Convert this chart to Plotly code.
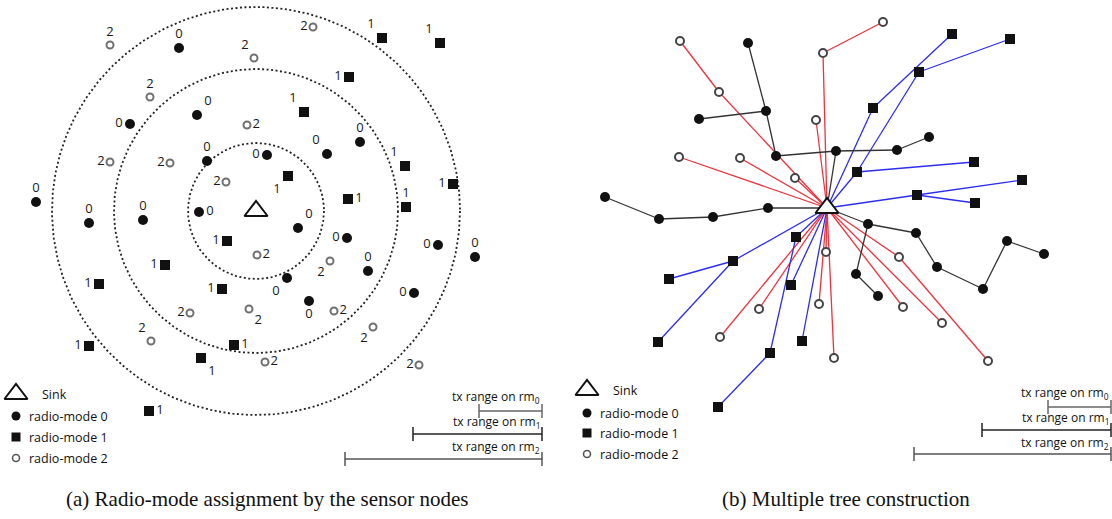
import numpy as np
import plotly.graph_objects as go

W, H = 1112, 519

# ---------------- Panel (a): radio-mode assignment ----------------
sink_a = (256, 211)
ring_radii_a = [68, 142, 204]

mode0_a_x = [179, 197, 130, 207, 267, 36, 89, 143, 199, 360, 327, 298, 347, 438, 475, 368, 287, 309, 414]
mode0_a_y = [48, 115, 124, 161, 155, 202, 223, 220, 212, 142, 154, 228, 238, 245, 257, 271, 278, 301, 293]
mode0_a_lbl = ["top center", "top right", "middle left", "top center", "middle left", "top center",
               "top center", "top center", "middle right", "top center", "top left", "top right",
               "middle left", "middle left", "top center", "top center", "bottom left",
               "bottom center", "middle left"]

mode1_a_x = [382, 440, 349, 304, 405, 453, 288, 348, 406, 227, 165, 99, 222, 89, 234, 201, 149]
mode1_a_y = [38, 43, 77, 112, 166, 184, 176, 199, 207, 241, 265, 284, 289, 346, 345, 358, 411]
mode1_a_lbl = ["top left", "top left", "middle left", "top left", "top left", "middle left",
               "bottom left", "middle right", "top center", "middle left", "middle left",
               "middle left", "middle left", "middle left", "middle right", "bottom right",
               "middle right"]

mode2_a_x = [110, 313, 254, 150, 247, 110, 170, 226, 257, 330, 190, 249, 334, 373, 151, 265, 419]
mode2_a_y = [45, 27, 58, 97, 125, 162, 163, 182, 255, 261, 313, 309, 311, 327, 341, 362, 365]
mode2_a_lbl = ["top center", "middle left", "top left", "top center", "middle right", "middle left",
               "middle left", "middle left", "middle right", "bottom left", "middle left",
               "bottom right", "middle right", "bottom left", "top left", "middle right",
               "middle left"]

# ---------------- Panel (b): multiple tree construction ----------------
sink_b = (827, 208)
# parent index: -1 means the sink
mode0_b_x = [768, 713, 659, 605, 836, 776, 766, 748, 699, 897, 929, 868, 916, 937, 983, 1007, 1044, 856, 878]
mode0_b_y = [208, 217, 219, 197, 151, 156, 111, 43, 119, 150, 137, 224, 233, 267, 289, 241, 254, 274, 296]
mode0_b_parent = [-1, 0, 1, 2, -1, 4, 5, 6, 6, 4, 9, -1, 11, 12, 13, 14, 15, 11, 17]

mode1_b_x = [873, 952, 857, 919, 1010, 974, 917, 1022, 975, 733, 669, 658, 791, 796, 770, 718, 802]
mode1_b_y = [108, 34, 172, 72, 39, 162, 195, 180, 203, 261, 279, 342, 285, 237, 353, 407, 341]
mode1_b_parent = [-1, 0, -1, 2, 3, 2, -1, 6, 6, -1, 9, 9, -1, -1, 13, 14, -1]

mode2_b_x = [823, 883, 816, 719, 680, 679, 740, 795, 826, 819, 834, 759, 720, 899, 988, 903, 942]
mode2_b_y = [53, 22, 120, 92, 41, 157, 158, 178, 252, 304, 358, 309, 337, 257, 361, 307, 323]
mode2_b_parent = [-1, 0, -1, -1, 3, -1, -1, -1, -1, -1, -1, -1, -1, -1, 13, -1, -1]

# ---------------- legends / scale bars / captions ----------------
legend_labels = ["Sink", "radio-mode 0", "radio-mode 1", "radio-mode 2"]
legend_a_x, legend_a_y = 16, [394, 416, 437, 458]
legend_b_x, legend_b_y = 587, [390, 413, 433, 454]

tx_labels = ["tx range on rm<sub>0</sub>", "tx range on rm<sub>1</sub>", "tx range on rm<sub>2</sub>"]
tx_range = [63, 129, 197]
bars_a_right, bars_a_text_y, bars_a_y = 542, [397, 422, 447], [411, 434, 459]
bars_b_right, bars_b_text_y, bars_b_y = 1111, [393, 418, 443], [407, 430, 454]
bar_colors = ["#666666", "#222222", "#555555"]

captions = ["(a) Radio-mode assignment by the sensor nodes", "(b) Multiple tree construction"]
caption_x = [267, 846]
caption_y = 499

LABEL_FONT = dict(family="Open Sans", size=13, color="#1a1a1a")
TEXT_FONT = dict(family="Open Sans", size=12.5, color="#111111")
SINK_MARKER = dict(symbol="triangle-up", size=20, color="white", line=dict(color="#111111", width=2))

fig = go.Figure()

# dotted rings
t = np.linspace(0, 2 * np.pi, 400)
for r in ring_radii_a:
    fig.add_trace(go.Scatter(x=sink_a[0] + r * np.cos(t), y=sink_a[1] + r * np.sin(t), mode="lines",
                             line=dict(color="#222222", width=1.8, dash="2px,2.5px"), hoverinfo="skip"))

# nodes (a)
fig.add_trace(go.Scatter(x=mode0_a_x, y=mode0_a_y, mode="markers+text", text=["0"] * len(mode0_a_x),
                         textposition=mode0_a_lbl, textfont=LABEL_FONT,
                         marker=dict(symbol="circle", size=10, color="#111111")))
fig.add_trace(go.Scatter(x=mode1_a_x, y=mode1_a_y, mode="markers+text", text=["1"] * len(mode1_a_x),
                         textposition=mode1_a_lbl, textfont=LABEL_FONT,
                         marker=dict(symbol="square", size=10, color="#111111")))
fig.add_trace(go.Scatter(x=mode2_a_x, y=mode2_a_y, mode="markers+text", text=["2"] * len(mode2_a_x),
                         textposition=mode2_a_lbl, textfont=LABEL_FONT,
                         marker=dict(symbol="circle", size=7, color="white", line=dict(color="#707070", width=2))))
fig.add_trace(go.Scatter(x=[sink_a[0]], y=[sink_a[1]], mode="markers", marker=SINK_MARKER))


# edges (b)
def edges(xs, ys, parents):
    ex, ey = [], []
    for x, y, p in zip(xs, ys, parents):
        px, py = (sink_b if p < 0 else (xs[p], ys[p]))
        ex += [px, x, None]
        ey += [py, y, None]
    return ex, ey


for xs, ys, ps, col in [(mode2_b_x, mode2_b_y, mode2_b_parent, "rgb(236,52,62)"),
                        (mode1_b_x, mode1_b_y, mode1_b_parent, "rgb(45,45,240)"),
                        (mode0_b_x, mode0_b_y, mode0_b_parent, "#333333")]:
    ex, ey = edges(xs, ys, ps)
    fig.add_trace(go.Scatter(x=ex, y=ey, mode="lines", line=dict(color=col, width=1.3), hoverinfo="skip"))

fig.add_trace(go.Scatter(x=mode0_b_x, y=mode0_b_y, mode="markers",
                         marker=dict(symbol="circle", size=10, color="#111111")))
fig.add_trace(go.Scatter(x=mode1_b_x, y=mode1_b_y, mode="markers",
                         marker=dict(symbol="square", size=10, color="#111111")))
fig.add_trace(go.Scatter(x=mode2_b_x, y=mode2_b_y, mode="markers",
                         marker=dict(symbol="circle", size=8, color="white", line=dict(color="#444444", width=2))))
fig.add_trace(go.Scatter(x=[sink_b[0]], y=[sink_b[1]], mode="markers", marker=SINK_MARKER))

annotations = []
# legends
for lx, ly in [(legend_a_x, legend_a_y), (legend_b_x, legend_b_y)]:
    fig.add_trace(go.Scatter(x=[lx], y=[ly[0]], mode="markers", marker=SINK_MARKER))
    fig.add_trace(go.Scatter(x=[lx], y=[ly[1]], mode="markers", marker=dict(symbol="circle", size=9, color="#111111")))
    fig.add_trace(go.Scatter(x=[lx], y=[ly[2]], mode="markers", marker=dict(symbol="square", size=9, color="#111111")))
    fig.add_trace(go.Scatter(x=[lx], y=[ly[3]], mode="markers",
                             marker=dict(symbol="circle", size=7, color="white", line=dict(color="#555555", width=1.6))))
    for i, lab in enumerate(legend_labels):
        annotations.append(dict(x=lx + (24 if i == 0 else 11), y=ly[i], text=lab, showarrow=False,
                                xanchor="left", yanchor="middle", font=TEXT_FONT))

# scale bars
for right, ty, by in [(bars_a_right, bars_a_text_y, bars_a_y), (bars_b_right, bars_b_text_y, bars_b_y)]:
    for i, rng in enumerate(tx_range):
        fig.add_trace(go.Scatter(x=[right - rng, right], y=[by[i], by[i]], mode="lines+markers",
                                 line=dict(color=bar_colors[i], width=1.5),
                                 marker=dict(symbol="line-ns-open", size=10, color=bar_colors[i],
                                             line=dict(color=bar_colors[i], width=1.5))))
        annotations.append(dict(x=right, y=ty[i], text=tx_labels[i], showarrow=False, xanchor="right",
                                yanchor="middle", font=dict(family="Open Sans", size=12, color="#111111")))

# captions
for cx, cap in zip(caption_x, captions):
    annotations.append(dict(x=cx, y=caption_y, text=cap, showarrow=False, xanchor="center", yanchor="middle",
                            font=dict(family="Liberation Serif", size=21, color="#111111")))

fig.update_layout(
    width=W, height=H, margin=dict(l=0, r=0, t=0, b=0),
    paper_bgcolor="white", plot_bgcolor="white", showlegend=False,
    xaxis=dict(range=[0, W], visible=False, fixedrange=True),
    yaxis=dict(range=[H, 0], visible=False, fixedrange=True),
    annotations=annotations,
)
fig.write_html("out.html", config={"displayModeBar": False})
